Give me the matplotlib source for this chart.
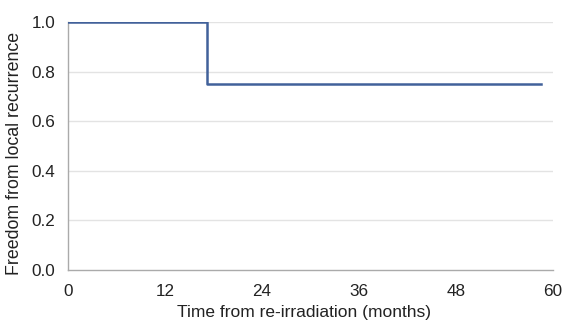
import matplotlib
matplotlib.use("Agg")
import matplotlib.pyplot as plt

# Kaplan-Meier style step data
times = [0, 17.2, 58.5]
survival = [1.0, 0.75, 0.75]

x_ticks = [0, 12, 24, 36, 48, 60]
y_ticks = [0.0, 0.2, 0.4, 0.6, 0.8, 1.0]


def main():
    plt.rcParams['font.family'] = ['Liberation Sans', 'DejaVu Sans']

    fig = plt.figure(figsize=(5.63, 3.25), dpi=100)
    ax = fig.add_axes([0.1208, 0.169, 0.8614, 0.763])

    # light horizontal gridlines
    for y in y_ticks[1:]:
        ax.axhline(y, color='#e3e3e3', linewidth=1.0, zorder=0)

    ax.step(times, survival, where='post', color='#41619a', linewidth=1.8,
            zorder=3)

    ax.set_xlim(0, 60)
    ax.set_ylim(0, 1.0)
    ax.set_xticks(x_ticks)
    ax.set_yticks(y_ticks)
    ax.set_yticklabels([f"{v:.1f}" for v in y_ticks])
    ax.tick_params(length=0, labelsize=12.3, colors='#222222')
    ax.tick_params(axis='x', pad=10)
    ax.tick_params(axis='y', pad=9)

    for side in ['top', 'right']:
        ax.spines[side].set_visible(False)
    for side in ['left', 'bottom']:
        ax.spines[side].set_color('#aaaaaa')
        ax.spines[side].set_linewidth(1.0)

    ax.set_xlabel("Time from re-irradiation (months)", fontsize=12.5,
                  color='#222222', labelpad=4)
    ax.set_ylabel("Freedom from local recurrence", fontsize=12.8,
                  color='#222222', labelpad=6)
    ax.xaxis.label.set_x(0.487)
    ax.yaxis.label.set_y(0.47)

    fig.savefig("out.png", dpi=100)


if __name__ == "__main__":
    main()
